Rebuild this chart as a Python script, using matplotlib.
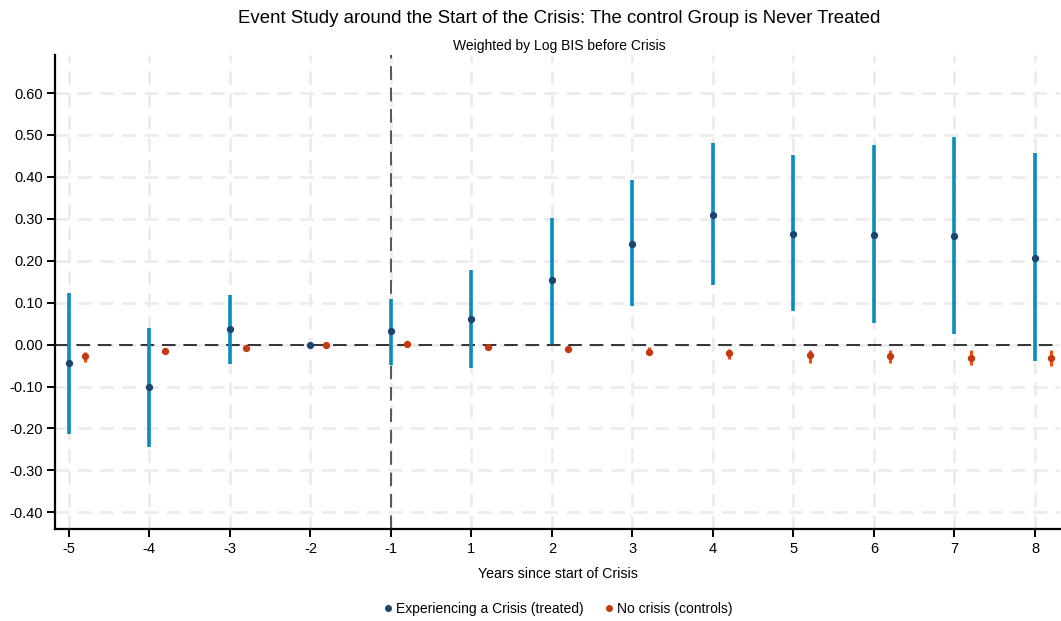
import numpy as np
import matplotlib.pyplot as plt
from matplotlib.lines import Line2D

plt.rcParams['font.family'] = ['Liberation Sans', 'DejaVu Sans']

# event time categories (0 is omitted)
years = ['-5', '-4', '-3', '-2', '-1', '1', '2', '3', '4', '5', '6', '7', '8']

# treated group: coefficient and 95% CI
treat_coef = [-0.045, -0.100, 0.037, 0.000, 0.033, 0.061, 0.153, 0.241, 0.310, 0.264, 0.262, 0.260, 0.207]
treat_lo = [-0.214, -0.244, -0.047, 0.000, -0.048, -0.056, 0.002, 0.091, 0.143, 0.079, 0.051, 0.025, -0.040]
treat_hi = [0.123, 0.040, 0.119, 0.000, 0.109, 0.178, 0.302, 0.392, 0.480, 0.451, 0.475, 0.496, 0.456]

# control group: coefficient and 95% CI
ctrl_coef = [-0.028, -0.016, -0.007, 0.000, 0.002, -0.005, -0.011, -0.017, -0.021, -0.026, -0.028, -0.031, -0.033]
ctrl_lo = [-0.042, -0.021, -0.010, 0.000, 0.000, -0.009, -0.016, -0.025, -0.035, -0.043, -0.045, -0.049, -0.051]
ctrl_hi = [-0.017, -0.010, -0.004, 0.000, 0.004, -0.002, -0.006, -0.006, -0.010, -0.012, -0.012, -0.014, -0.014]

yticks = [-0.4, -0.3, -0.2, -0.1, 0.0, 0.1, 0.2, 0.3, 0.4, 0.5, 0.6]

x = np.arange(len(years))
xc = x + 0.2

fig = plt.figure(figsize=(10.61, 6.21), dpi=100)
ax = fig.add_axes([0.052, 0.148, 0.947, 0.763])

# grid
for yy in yticks:
    ax.axhline(yy, color='#ececec', lw=2.0, ls=(0, (5, 3)), zorder=0)
for xx in x:
    ax.axvline(xx, color='#ececec', lw=2.0, ls=(0, (5, 3)), zorder=0)

ax.axvline(x[years.index('-1')], color='#555555', lw=1.4, ls=(0, (7, 4)), zorder=1)
ax.axhline(0, color='#333333', lw=1.4, ls=(0, (7, 4)), zorder=1)

ax.vlines(x, treat_lo, treat_hi, color='#0a8cc0', lw=2.6, zorder=2)
ax.scatter(x, treat_coef, s=18, color='#1c4570', zorder=3)

ax.vlines(xc, ctrl_lo, ctrl_hi, color='#ff4a0a', lw=2.2, zorder=2)
ax.scatter(xc, ctrl_coef, s=18, color='#c33a10', zorder=3)

ax.set_xlim(-0.17, 12.31)
ax.set_ylim(-0.44, 0.69)
ax.set_xticks(x)
ax.set_xticklabels(years, fontsize=10.5)
ax.set_yticks(yticks)
ax.set_yticklabels([f'{v:.2f}' for v in yticks], fontsize=10.5)
ax.tick_params(length=6, width=1.4, color='black', pad=3)
for s in ['top', 'right']:
    ax.spines[s].set_visible(False)
for s in ['left', 'bottom']:
    ax.spines[s].set_linewidth(1.6)

ax.set_xlabel('Years since start of Crisis', fontsize=10.2, labelpad=8)

fig.text(0.527, 0.970, 'Event Study around the Start of the Crisis: The control Group is Never Treated',
         ha='center', va='center', fontsize=13.4)
fig.text(0.527, 0.926, 'Weighted by Log BIS before Crisis', ha='center', va='center', fontsize=10)

handles = [
    Line2D([], [], ls='none', marker='o', ms=4, color='#1c4570', label='Experiencing a Crisis (treated)'),
    Line2D([], [], ls='none', marker='o', ms=4, color='#c33a10', label='No crisis (controls)'),
]
fig.legend(handles=handles, loc='center', bbox_to_anchor=(0.525, 0.02), ncol=2, frameon=False,
           fontsize=10, handletextpad=0.1, columnspacing=1.3, handlelength=1.0)

fig.savefig('out.png', dpi=100)
